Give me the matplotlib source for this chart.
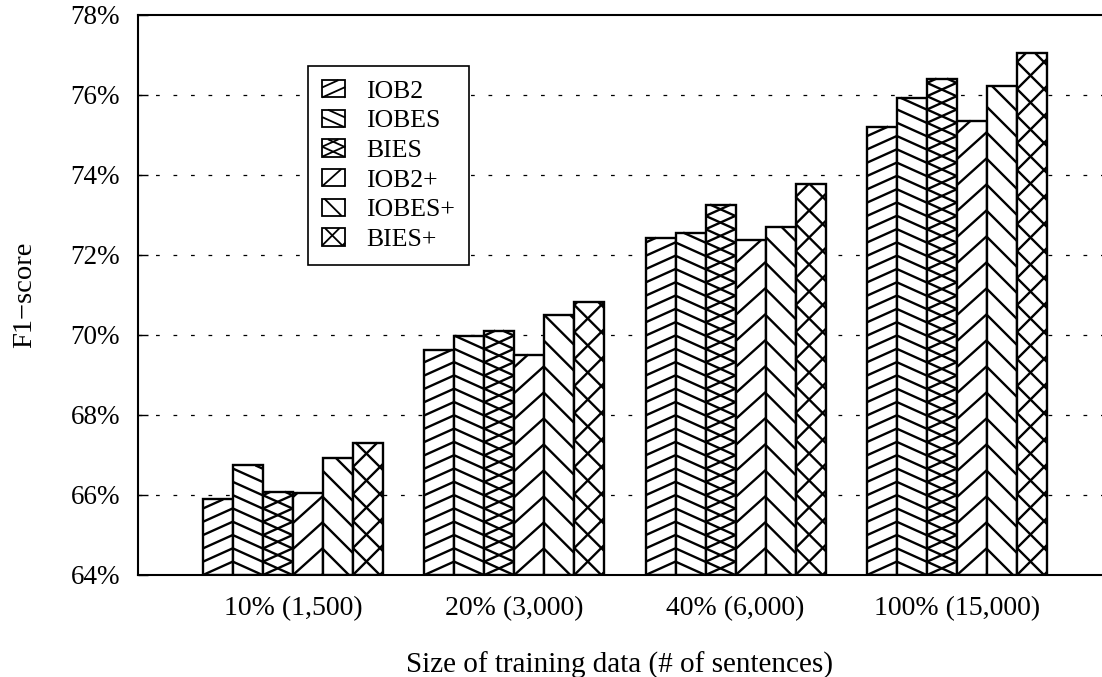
"""Grouped bar chart of F1-score by tagging scheme and training data size."""

import matplotlib

matplotlib.use("Agg")
import matplotlib.pyplot as plt
import numpy as np
from matplotlib.collections import LineCollection
from matplotlib.legend_handler import HandlerBase
from matplotlib.patches import Rectangle

groups = ["10% (1,500)", "20% (3,000)", "40% (6,000)", "100% (15,000)"]
schemes = ["IOB2", "IOBES", "BIES", "IOB2+", "IOBES+", "BIES+"]
iob2 = [65.89, 69.63, 72.43, 75.21]
iobes = [66.74, 69.98, 72.56, 75.93]
bies = [66.08, 70.11, 73.26, 76.41]
iob2_plus = [66.06, 69.51, 72.38, 75.36]
iobes_plus = [66.93, 70.51, 72.71, 76.23]
bies_plus = [67.31, 70.83, 73.77, 77.04]
yticks = [64, 66, 68, 70, 72, 74, 76, 78]

series = [iob2, iobes, bies, iob2_plus, iobes_plus, bies_plus]

# hatch line slopes and vertical spacing (pixels), gnuplot-like fill patterns
patterns = [
    ([0.45], 13.3),
    ([-0.45], 13.3),
    ([0.45, -0.45], 13.3),
    ([0.9], 26.0),
    ([-1.0], 26.0),
    ([1.0, -1.0], 27.0),
]

plt.rcParams["font.family"] = ["Liberation Serif", "DejaVu Serif"]
DPI = 100
LW = 1.7


def hatch_segments(x0, y0, w, h, slopes, spacing):
    """Line segments of parallel hatch lines clipped to a rectangle."""
    segs = []
    for m in slopes:
        cmin = -max(0.0, m * w)
        cmax = h - min(0.0, m * w)
        for k in range(int(np.floor(cmin / spacing)), int(np.ceil(cmax / spacing)) + 1):
            c = k * spacing
            if m > 0:
                lo, hi = -c / m, (h - c) / m
            else:
                lo, hi = (h - c) / m, -c / m
            lo, hi = max(lo, 0.0), min(hi, w)
            if hi - lo > 0.5:
                segs.append([(x0 + lo, y0 + m * lo + c), (x0 + hi, y0 + m * hi + c)])
    return segs


class HatchHandler(HandlerBase):
    def __init__(self, slopes, spacing):
        super().__init__()
        self.slopes = slopes
        self.spacing = spacing

    def create_artists(self, legend, orig_handle, xdescent, ydescent, width, height, fontsize, trans):
        rect = Rectangle((-xdescent, -ydescent), width, height, facecolor="white",
                         edgecolor="black", lw=1.3, transform=trans)
        segs = hatch_segments(-xdescent, -ydescent, width, height, self.slopes,
                              self.spacing * 72 / DPI)
        lines = LineCollection(segs, colors="black", linewidths=1.3, transform=trans)
        return [rect, lines]


fig = plt.figure(figsize=(11.02, 6.77), dpi=DPI)
ax = fig.add_axes([138 / 1102, 1 - 575 / 677, 1 - 138 / 1102, (575 - 15) / 677])

x = np.arange(len(groups))
bw = 0.1355
ax.set_xlim(-0.70, 3.655)
ax.set_ylim(64, 78)

bar_sets = []
for j, vals in enumerate(series):
    bars = ax.bar(x + (j - 2.5) * bw, np.array(vals) - 64, bw, bottom=64, color="white",
                  edgecolor="black", linewidth=LW, zorder=2, label=schemes[j])
    bar_sets.append(bars)

# hatch lines drawn in pixel space so slopes match the picture
inv = ax.transData.inverted()
for bars, (slopes, spacing) in zip(bar_sets, patterns):
    for bar in bars:
        (px0, py0), (px1, py1) = ax.transData.transform(
            [(bar.get_x(), bar.get_y()), (bar.get_x() + bar.get_width(), bar.get_y() + bar.get_height())])
        segs = hatch_segments(px0, py0, px1 - px0, py1 - py0, slopes, spacing)
        segs = [inv.transform(s) for s in segs]
        ax.add_collection(LineCollection(segs, colors="black", linewidths=LW, zorder=3,
                                         capstyle="butt"))

ax.set_yticks(yticks)
ax.set_yticklabels([f"{t}%" for t in yticks])
ax.set_xticks(x)
ax.set_xticklabels(groups)
ax.tick_params(axis="y", direction="in", length=7, width=1, labelsize=19.5, pad=13)
ax.tick_params(axis="x", length=0, labelsize=20, pad=15)
for t in yticks[1:-1]:
    ax.axhline(t, color="black", lw=0.9, linestyle=(0, (3, 11)), zorder=1)

ax.spines["right"].set_visible(False)
for side in ["left", "top", "bottom"]:
    ax.spines[side].set_linewidth(1.5)

ax.set_ylabel("F1\u2212score", fontsize=20.5, labelpad=24)
ax.set_xlabel("Size of training data (# of sentences)", fontsize=21, labelpad=22)

handler_map = {bars.patches[0]: HatchHandler(s, sp * 0.75)
               for bars, (s, sp) in zip(bar_sets, patterns)}
leg = ax.legend([b.patches[0] for b in bar_sets], schemes, handler_map=handler_map,
                loc="upper left", bbox_to_anchor=(308 / 1102, 1 - 66 / 677),
                bbox_transform=fig.transFigure, prop={"size": 18.5}, frameon=True,
                fancybox=False, edgecolor="black", framealpha=1, borderaxespad=0,
                handlelength=0.9, handleheight=0.66, handletextpad=0.8,
                labelspacing=0.27, borderpad=0.55)
leg.get_frame().set_linewidth(1.2)
leg.set_zorder(5)

fig.savefig("out.png", dpi=DPI)
